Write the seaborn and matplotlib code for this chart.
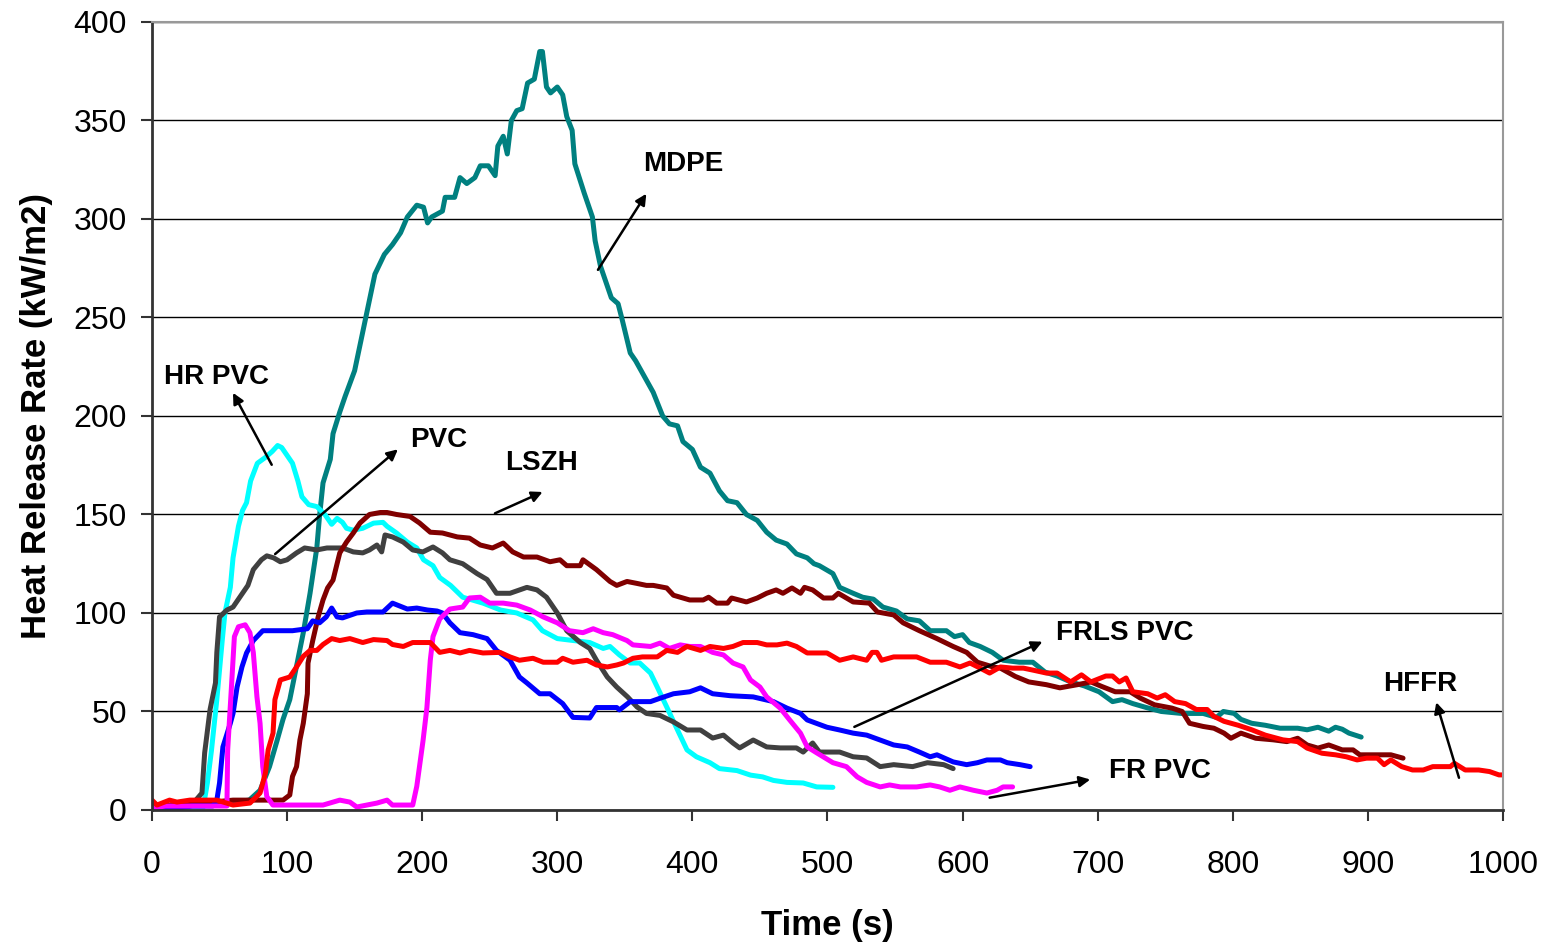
import pandas as pd
import matplotlib
matplotlib.use("Agg")
import matplotlib.pyplot as plt
import seaborn as sns

# (time s, heat release rate kW/m2)
mdpe = [(0, 0), (10, 1), (20, 2), (30, 2), (40, 3), (50, 4), (60, 4), (72, 5), (80, 10), (87, 22),
        (92.5, 35), (97, 46), (102, 56), (107, 73), (112, 90), (117, 110), (122, 133), (124, 149),
        (126.6, 166), (132, 178), (134, 191), (139, 202), (143, 210), (150, 223), (158, 249),
        (161, 259), (165, 272), (172, 282), (178, 287), (184, 293), (189, 301), (196, 307),
        (201, 306), (204, 298), (207, 301), (215, 304), (217, 311), (224, 311), (228, 321),
        (233, 318), (239, 321), (243, 327), (249, 327), (254, 322), (256, 337), (260, 342),
        (263, 333), (266, 350), (270, 355), (274, 356), (278, 369), (283, 371), (287, 385),
        (289, 385), (292, 367), (295, 364), (300, 367), (304, 363), (307, 352), (311, 345),
        (313, 328), (320, 313), (326, 301), (328, 289), (332, 276), (337, 266), (340, 260),
        (345, 257), (348, 249), (354, 232), (358, 228), (367, 217), (371, 212), (378, 200),
        (383, 196), (389, 195), (393, 187), (400, 183), (406, 174), (413, 171), (420, 162),
        (426, 157), (433, 156), (440, 150), (448, 147), (455, 141), (462, 137), (470, 135),
        (477, 130), (485, 128), (490, 125), (494, 124), (504, 120), (509, 113), (519, 110),
        (526, 108), (534, 107), (541, 103), (551, 101), (559, 97), (568, 96), (576, 91),
        (588, 91), (594, 88), (600, 89), (605, 85), (613, 83), (622, 80), (630, 76), (642, 75),
        (652, 75), (661, 70), (670, 68), (680, 65), (690, 63), (701, 60), (711, 55), (718, 56),
        (726, 54), (736, 52), (747, 50), (762, 49), (778, 49), (788, 47), (793, 50), (801, 49),
        (806, 46), (814, 44), (824, 43), (835, 41.5), (848, 41.5), (855, 40.7), (863, 42),
        (871, 40), (876, 42), (881, 41), (886, 39), (895, 37)]

hr_pvc = [(0, 0), (10, 0.5), (20, 1), (30, 1), (38, 1.5), (41, 13.7), (44, 30), (48, 56), (52, 86),
          (54, 100), (58, 113), (60, 128), (64, 144), (67, 152), (70, 156), (73, 167), (78, 176),
          (84, 179), (89, 182), (93, 185), (96, 184), (100, 180), (104, 176), (108, 167),
          (111, 159), (116, 155), (122, 154), (128, 150), (133, 145), (137, 148), (141, 146),
          (144, 143), (149, 142), (156, 143), (164, 145.6), (171, 146), (174, 144), (181, 140.6),
          (189, 136), (196, 133), (201, 127), (208, 124), (213, 118), (221, 114), (230, 108),
          (245, 105), (258, 101.5), (270, 100), (282, 96.5), (289, 91), (300, 87), (312, 86),
          (324, 85), (334, 82), (339, 83), (346, 78.7), (354, 74.6), (361, 74.6), (369, 69.5),
          (374, 62.4), (381, 52.3), (389, 40.6), (396, 30.5), (403, 27), (413, 24), (420, 21),
          (433, 20), (443, 17.7), (452, 16.8), (460, 15), (470, 14), (482, 13.7), (492, 11.7),
          (504, 11.5)]

pvc = [(0, 1), (10, 2), (20, 3), (30, 3), (37, 8.6), (39, 29), (43, 51), (47, 64.5), (48, 80),
       (50, 98), (55.5, 101.5), (60, 103), (66, 109), (71, 114), (75, 122), (81, 127), (85, 129),
       (90, 128), (95, 126), (100, 127), (107, 130.5), (113, 133), (122, 132), (129.5, 133),
       (141, 133), (149, 131), (156, 130.5), (161, 132), (166.5, 134.5), (170, 131),
       (172.5, 139.6), (178, 138.6), (186, 136), (193, 132), (200.5, 131), (208, 133.5),
       (215, 130.5), (220.5, 127), (230, 125), (240.6, 120), (248, 117), (255, 110), (265, 110),
       (277.5, 113), (285, 111.7), (292, 108), (300, 100), (307, 91), (317, 85), (324, 82),
       (329, 76), (337, 67.5), (344, 62.4), (352, 57.4), (359, 52.3), (366, 49), (376, 48),
       (386, 44.7), (396, 40.6), (406, 40.6), (415, 36.5), (423, 38), (430, 34), (435, 31.5),
       (445, 35.5), (455, 32), (465, 31.5), (477, 31.5), (482, 29.4), (489, 34), (494, 29.4),
       (509, 29.4), (519, 27), (529, 26.4), (539, 22), (549, 23), (563, 22), (574, 24),
       (586, 23), (593, 21)]

lszh = [(0, 2), (10, 2), (20, 3), (30, 4), (45, 4), (60, 5), (75, 5), (85, 5), (97, 5), (102, 7.6),
        (104, 17), (107, 22), (109.5, 35.5), (112, 44), (115, 59), (115.5, 74.6), (119, 86),
        (123, 98), (126.6, 106.6), (130, 112.7), (134, 116.7), (139, 130.5), (144, 136),
        (149, 140.6), (154, 145.7), (161, 150), (169, 151), (174, 151), (181, 150), (191, 149),
        (198, 145.7), (206, 141), (215, 140.6), (226, 138.6), (235, 138), (243, 134.5),
        (252, 133), (260, 135.5), (267, 131), (275, 128.4), (285, 128.4), (294.6, 126),
        (302, 127), (307, 124), (317, 124), (319, 127), (329, 122), (339, 116), (344, 114),
        (351.6, 116), (359, 115), (366, 114), (371, 114), (381, 112.7), (386, 109),
        (398, 106.6), (408, 106.6), (412, 108), (418, 105), (426, 105), (429, 107.6),
        (440, 105.6), (448, 107.6), (455, 110), (462, 111.7), (467, 110), (473.7, 112.7),
        (480, 110), (483, 113), (489, 111.7), (497, 107.6), (504, 107.6), (508, 110),
        (519, 105.6), (531, 105), (537, 100.5), (549, 99), (556, 95), (568, 91), (581, 87),
        (593, 83), (603, 80), (611, 75), (622.5, 72.6), (628, 72), (639, 67.8), (649, 65),
        (662, 63.6), (672, 62), (685, 63.6), (695, 65), (703, 62.7), (713, 60), (724, 60),
        (731.5, 56.8), (742, 53.4), (755, 51.7), (762.5, 50), (768, 44), (778, 42.4),
        (786, 41.5), (793.5, 39), (798.6, 36.4), (806, 39), (817, 36.4), (830, 35.6),
        (840, 34.7), (848, 36.4), (855, 33), (863, 31.4), (871, 33), (881, 30.5), (889, 30.5),
        (894, 28), (907, 28), (917, 28), (926, 26.3)]

frls_pvc = [(0, 0), (10, 1), (20, 1), (30, 2), (45, 2), (48, 5), (50, 13.7), (52.5, 32), (58, 44),
            (60, 49), (63, 62.4), (66.6, 72.6), (70, 79.7), (75, 86), (82, 91), (89.5, 91),
            (104, 91), (115, 92), (119, 96), (124, 95), (129, 98), (133, 102.5), (137, 98),
            (141, 97.5), (151.6, 100), (159, 100.5), (171, 100.5), (178, 105), (189, 102),
            (196, 102.5), (204, 101.5), (211, 101), (215, 100), (220.5, 95), (228, 90),
            (237.6, 89), (248, 87), (255, 81), (265, 76), (272, 67.5), (277.5, 64.5), (287, 59),
            (294.6, 59), (304, 54), (311.6, 47), (324, 46.7), (329, 52), (344, 52), (346, 50.8),
            (354, 55), (369, 55), (376, 56.7), (386, 59), (398, 60), (406, 62), (415, 59),
            (428, 58), (445, 57.4), (460, 55), (470, 51.7), (480, 49), (485, 45.7), (499.6, 42),
            (509, 40.6), (519, 39), (529, 38), (539, 35.5), (549, 33), (559, 32), (568, 29.4),
            (576, 27), (581, 28), (593, 24.4), (603, 23), (611, 24), (618, 25.4), (628, 25.4),
            (633, 24), (642.5, 23), (650, 22)]

fr_pvc = [(0, 1), (10, 2), (20, 2), (30, 2), (40, 2), (50, 2), (55.5, 2), (56, 30), (59, 64.5),
          (61, 88), (64, 93), (69, 94), (72.5, 90), (75, 80), (77.7, 57.4), (80, 44), (82, 22),
          (85, 6.8), (89.5, 2.5), (112, 2.5), (126.6, 2.5), (139, 5), (146.5, 4), (151.6, 1.5),
          (166.5, 3.5), (174, 5), (178, 2.5), (193, 2.5), (196, 12), (198, 22), (200.6, 35),
          (203.5, 52), (206, 76), (208, 88), (213, 97), (220.5, 102), (230, 103), (235, 107.6),
          (243, 108), (250, 105), (260, 105), (270, 104), (280, 101.5), (289.6, 98), (300, 95),
          (309, 91), (319, 90), (326.6, 92), (334, 90), (341, 89), (351.6, 86), (356, 83.8),
          (369, 83), (376, 84.7), (383, 82), (391, 83.8), (398, 83), (406, 83), (415, 80),
          (423, 78.7), (430, 74.6), (437.5, 72.6), (443, 66), (450, 62.4), (455, 57.4),
          (465, 51.7), (472, 45.7), (480, 39), (485, 32), (492, 29), (504, 24), (514, 22),
          (522, 16.8), (529, 14), (539, 11.7), (546, 12.7), (554, 11.7), (566, 11.7),
          (576, 12.7), (583, 11.7), (590.6, 10), (598, 11.7), (608, 10), (618, 8.6),
          (625.5, 10), (630, 11.7), (637, 11.7)]

hffr = [(0, 5), (3.7, 2.5), (13, 5), (18.5, 4), (28, 5), (48, 5), (60, 2.5), (72.5, 3.5), (80, 8.6),
        (84, 18.8), (86, 30.5), (89.6, 39), (91, 56), (95, 66), (102, 67.5), (107, 72.6),
        (112, 78), (117, 81), (122, 81), (126.6, 84), (133, 87), (139, 86), (146.5, 87),
        (156, 85), (164, 86.5), (174, 86), (178, 84), (186, 83), (193, 85), (206, 85), (213, 80),
        (220.5, 81), (228, 79.7), (235, 81), (245, 79.7), (257.6, 80), (265, 77.7), (272, 76),
        (282, 77), (289.6, 75), (300, 75), (304, 77), (311.6, 75), (322, 76), (329, 73.6),
        (337, 72.6), (344, 73.6), (349, 74.6), (356, 77), (363, 77.7), (374, 77.7), (381, 81),
        (389, 80), (396, 83), (406, 81), (413, 83), (423, 82), (430, 83), (437.5, 85), (448, 85),
        (455, 83.8), (462.6, 83.8), (470, 84.7), (477, 83), (485, 79.7), (499.6, 79.7),
        (509, 76), (519, 77.7), (529, 76), (533, 80), (536.6, 80), (540, 76), (549, 77.7),
        (566, 77.7), (576, 75), (588, 75), (598, 72.6), (605.5, 74.6), (613, 72), (620, 69.5),
        (628, 72.6), (637, 72), (645, 72), (652, 71), (662, 69.5), (670, 69.5), (680, 65),
        (688, 68.6), (695, 65), (706, 68), (711, 68), (716, 65), (721, 67), (726, 60), (737, 59),
        (744, 56.8), (750, 58.5), (757, 55), (765, 54), (773, 51), (781, 51), (786, 47.5),
        (793.5, 45), (804, 43), (814, 40.7), (824, 38), (837, 35.6), (848, 34.7), (855, 31.4),
        (866, 28.8), (876, 28), (884, 27), (892, 25.4), (899, 26.3), (907, 26.3), (912, 23),
        (917, 25.4), (925, 22), (933, 20.3), (941, 20.3), (948, 22), (961, 22), (964, 23.7),
        (972, 20.3), (982, 20.3), (990, 19.5), (997, 17.8), (1004, 17.8)]

series = [("MDPE", mdpe, "#008080"),
          ("HR PVC", hr_pvc, "#00FFFF"),
          ("PVC", pvc, "#404040"),
          ("LSZH", lszh, "#800000"),
          ("FRLS PVC", frls_pvc, "#0000FF"),
          ("FR PVC", fr_pvc, "#FF00FF"),
          ("HFFR", hffr, "#FF0000")]

# label text position, arrow tail, arrow head (data coords)
labels = [("MDPE", (393, 328), (329, 273), (367, 314)),
          ("HR PVC", (48, 220), (89.6, 174), (59, 213)),
          ("PVC", (212, 188), (89.6, 129), (183.6, 184)),
          ("LSZH", (288, 176), (252, 150), (291, 162)),
          ("FRLS PVC", (720, 90), (518, 41.6), (661, 86)),
          ("FR PVC", (746, 20), (618, 6), (696.5, 15.7)),
          ("HFFR", (939, 64), (968, 15), (950, 56))]

frames = []
for name, pts, _ in series:
    df = pd.DataFrame(pts, columns=["time", "hrr"])
    df["cable"] = name
    frames.append(df)
data = pd.concat(frames, ignore_index=True)

sns.set_style("white")
plt.rcParams["font.family"] = ["Liberation Sans", "DejaVu Sans"]
plt.rcParams["text.color"] = "black"
plt.rcParams["axes.labelcolor"] = "black"
plt.rcParams["xtick.color"] = "black"
plt.rcParams["ytick.color"] = "black"

fig, ax = plt.subplots(figsize=(15.46, 9.48), dpi=100)
fig.subplots_adjust(left=0.0983, right=0.9722, top=0.9768, bottom=0.1456)

sns.lineplot(data=data, x="time", y="hrr", hue="cable",
             hue_order=[s[0] for s in series],
             palette={s[0]: s[2] for s in series},
             estimator=None, sort=False, linewidth=3.6, legend=False, ax=ax)

ax.set_xlim(0, 1000)
ax.set_ylim(0, 400)
ax.set_xticks(range(0, 1001, 100))
ax.set_yticks(range(0, 401, 50))
ax.yaxis.grid(True, color="black", linewidth=1)
ax.set_axisbelow(True)

for side in ["left", "bottom"]:
    ax.spines[side].set_color("#333333")
    ax.spines[side].set_linewidth(2)
for side in ["top", "right"]:
    ax.spines[side].set_color("#999999")
    ax.spines[side].set_linewidth(1.5)

ax.tick_params(axis="both", direction="out", length=8, width=1.5, color="#333333",
               labelsize=23, labelcolor="black", bottom=True, left=True)
ax.tick_params(axis="x", pad=21)
ax.tick_params(axis="y", pad=10)

ax.set_xlabel("Time (s)", fontsize=25, fontweight="bold", labelpad=21)
ax.set_ylabel("Heat Release Rate (kW/m2)", fontsize=25, fontweight="bold", labelpad=15)

for text, pos, tail, head in labels:
    ax.text(pos[0], pos[1], text, fontsize=20, fontweight="bold", color="black",
            ha="center", va="center")
    ax.annotate("", xy=head, xytext=tail,
                arrowprops=dict(arrowstyle="-|>", color="black", lw=1.8, mutation_scale=16))

fig.savefig("out.png", dpi=100)
